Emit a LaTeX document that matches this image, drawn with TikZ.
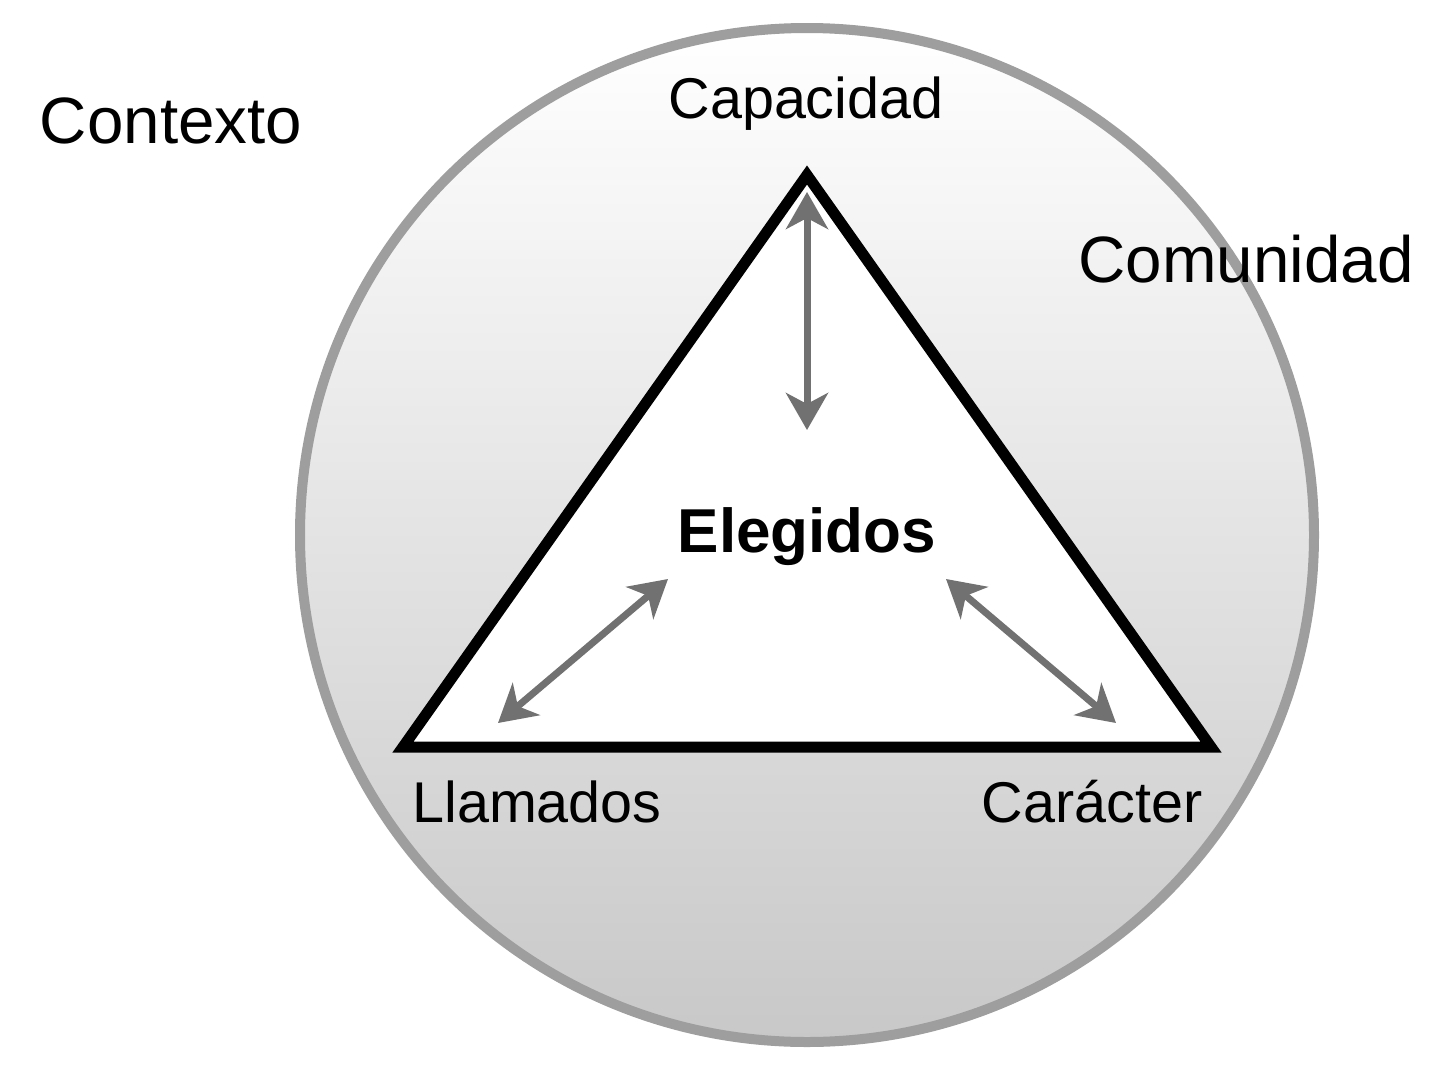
\documentclass[tikz,border=0pt]{standalone}
\usepackage{fontspec}
\setmainfont{Liberation Sans}
\usetikzlibrary{arrows.meta}
\definecolor{ringgray}{HTML}{9E9E9E}
\definecolor{arrowgray}{HTML}{717171}
\definecolor{fillbottom}{HTML}{C8C8C8}
\newcommand{\bigtext}{\fontsize{65.5}{78}\selectfont}
\newcommand{\smalltext}{\fontsize{57.5}{69}\selectfont}

\begin{document}
\begin{tikzpicture}[x=1pt,y=-1pt,
    label/.style={anchor=base,inner sep=0pt,text=black},
    dbl/.style={{Stealth[length=37pt,width=42pt,inset=11pt]}-{Stealth[length=37pt,width=42pt,inset=11pt]},line width=7pt,draw=arrowgray}]
        \useasboundingbox (0,0) rectangle (1449,1071);
        % Circle
        \draw[line width=10pt,draw=ringgray,top color=white,bottom color=fillbottom] (807,535) circle (507);
        % Triangle
        \coordinate (T) at (807,175);
        \coordinate (L) at (403,747);
        \coordinate (R) at (1211,747);
        \draw[line width=11pt,fill=white,line join=miter] (T) -- (L) -- (R) -- cycle;
        % Arrow ends
        \coordinate (capA) at (807,192);
        \coordinate (capB) at (807,430);
        \coordinate (llaA) at (498,723);
        \coordinate (llaB) at (668,579);
        \coordinate (carA) at (1116,723);
        \coordinate (carB) at (946,579);
        % Arrows
        \foreach \a/\b in {capA/capB,llaA/llaB,carA/carB} {\draw[dbl] (\a) -- (\b);}
        % Labels
        \node[label] (contexto) at (171,143) {\bigtext Contexto};
        \node[label] (comunidad) at (1246,282) {\bigtext Comunidad};
        \node[label] (capacidad) at (806,118) {\smalltext Capacidad};
        \node[label] (llamados) at (537,822) {\smalltext Llamados};
        \node[label] (caracter) at (1092,822) {\smalltext Carácter};
        \node[label] (elegidos) at (807,552) {\fontsize{62}{74}\selectfont\bfseries Elegidos};
    \end{tikzpicture}
\end{document}
